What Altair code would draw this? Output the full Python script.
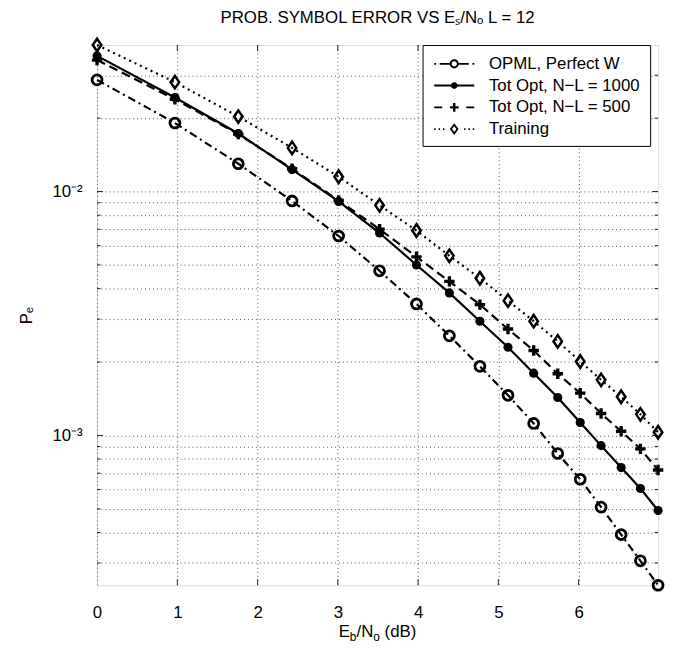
import altair as alt
import pandas as pd

# ---------------- data ----------------
x_db = [0.00, 0.97, 1.76, 2.43, 3.01, 3.52, 3.98, 4.39, 4.77, 5.12, 5.44, 5.74, 6.02, 6.28, 6.53, 6.77, 6.99]

pe_opml = [0.0287, 0.0191, 0.0130, 0.00915, 0.00657, 0.00473, 0.00346, 0.00256, 0.00192,
           0.00146, 0.00112, 0.000843, 0.000661, 0.000508, 0.000392, 0.000306, 0.000243]
pe_tot1000 = [0.0360, 0.0243, 0.0173, 0.0123, 0.00911, 0.00676, 0.00500, 0.00384, 0.00294,
              0.00230, 0.00180, 0.00143, 0.00113, 0.000908, 0.000738, 0.000606, 0.000492]
pe_tot500 = [0.0346, 0.0239, 0.0172, 0.0124, 0.00919, 0.00701, 0.00540, 0.00428, 0.00344,
             0.00273, 0.00223, 0.00179, 0.00149, 0.00123, 0.00104, 0.000881, 0.000721]
pe_training = [0.0399, 0.0281, 0.0203, 0.0151, 0.0115, 0.00878, 0.00692, 0.00545, 0.00441,
               0.00357, 0.00294, 0.00243, 0.00201, 0.00169, 0.00144, 0.00122, 0.00103]

series_names = ["OPML, Perfect W", "Tot Opt, N\u2212L = 1000", "Tot Opt, N\u2212L = 500", "Training"]
x_tick_values = [0, 1, 2, 3, 4, 5, 6]
y_major_ticks = [0.001, 0.01]
y_minor_ticks = [0.0003, 0.0004, 0.0005, 0.0006, 0.0007, 0.0008, 0.0009,
                 0.002, 0.003, 0.004, 0.005, 0.006, 0.007, 0.008, 0.009,
                 0.02, 0.03]
y_grid_values = sorted(y_major_ticks + y_minor_ticks)
title_text = "PROB. SYMBOL ERROR VS E\u209b/N\u2092 L = 12"
y_title_text = "P\u2091"
x_title_parts = ["E", "b", "/N", "o", "(dB)"]

rows = []
for name, vals in zip(series_names, [pe_opml, pe_tot1000, pe_tot500, pe_training]):
    for i, (xv, v) in enumerate(zip(x_db, vals)):
        rows.append({"series": name, "x": xv, "pe": v, "i": i})
df = pd.DataFrame(rows)

FONT = "Liberation Sans"
W, H = 567, 546

# ---------------- legend symbol paths (line + marker), designed in pixels ----------------
K = 13.6  # pixels per path unit for the legend symbol size used below


def u(v):
    return round(v / K, 4)


def rect(x0, x1, t):
    return f"M{u(x0)},{u(-t)}L{u(x1)},{u(-t)}L{u(x1)},{u(t)}L{u(x0)},{u(t)}Z"


def vrect(y0, y1, t):
    return f"M{u(-t)},{u(y0)}L{u(t)},{u(y0)}L{u(t)},{u(y1)}L{u(-t)},{u(y1)}Z"


def disk(r, sweep=1):
    r = u(r)
    return f"M{r},0A{r},{r},0,1,{sweep},{-r},0A{r},{r},0,1,{sweep},{r},0Z"


def ring(ro, ri):
    return disk(ro, 1) + disk(ri, 0)


def diamond_ring(w, h, k):
    return (f"M0,{u(-h)}L{u(w)},0L0,{u(h)}L{u(-w)},0Z" +
            f"M0,{u(-h*k)}L{u(-w*k)},0L0,{u(h*k)}L{u(w*k)},0Z")


T = 1.2
legend_paths = [
    rect(-27.5, -25, T) + rect(-20, -6.2, T) + ring(6.3, 3.6) + rect(6.2, 20, T) + rect(25, 27.5, T),
    rect(-27.5, 27.5, 1.3) + disk(4.6),
    rect(-27.5, -16.5, T) + rect(-6, 6, 1.6) + vrect(-6, 6, 1.6) + rect(16.5, 27.5, T),
    rect(-27.5, -25.5, T) + rect(-21.5, -19.5, T) + rect(-15.5, -13.5, T) +
    diamond_ring(6, 8, 0.5) +
    rect(13.5, 15.5, T) + rect(19.5, 21.5, T) + rect(25.5, 27.5, T),
]

# ---------------- scales / axes ----------------
xs = alt.Scale(domain=[0, 6.99], nice=False, zero=False)
ys = alt.Scale(type="log", domain=[0.000243, 0.0399], nice=False)

x_enc = alt.X("x:Q", scale=xs, axis=alt.Axis(
    values=x_tick_values, title=None, grid=True, gridDash=[1, 3], gridColor="#555",
    ticks=False, domain=False, labelFont=FONT, labelFontSize=17, labelColor="black",
    labelPadding=20, labelFlush=False, labelOverlap=False, format="d"))
y_enc = alt.Y("pe:Q", scale=ys, axis=alt.Axis(
    values=y_grid_values,
    labelExpr="datum.value == 0.01 ? '10\u207b\u00b2' : (datum.value == 0.001 ? '10\u207b\u00b3' : '')",
    title=y_title_text, titleFont=FONT, titleFontSize=17, titleFontWeight="normal",
    titleColor="black", titleX=-71, titleY=H / 2, titleBaseline="middle",
    grid=True, gridDash=[1, 3], gridColor="#555", ticks=False, domain=False,
    labelFont=FONT, labelFontSize=17, labelColor="black", labelPadding=15,
    labelOverlap=False, labelFlush=False))

base = alt.Chart(df).encode(x=x_enc, y=y_enc)

line_dashes = [[8, 4, 2, 4], None, [9, 5], [2, 4]]
lines = []
for name, dash in zip(series_names, line_dashes):
    kw = {"color": "black", "strokeWidth": 2.2}
    if dash is not None:
        kw["strokeDash"] = dash
    lines.append(base.transform_filter(alt.datum.series == name).mark_line(**kw).encode(order="i:Q"))


def pts(name, **kw):
    return base.transform_filter(alt.datum.series == name).mark_point(
        color="black", opacity=1, **kw)


p1 = pts(series_names[0], shape="circle", size=100, filled=False, strokeWidth=2.8)
p2 = pts(series_names[1], shape="circle", size=85, filled=True)
p3 = pts(series_names[2], shape="M-1,0L1,0M0,-1L0,1", size=110, filled=False, strokeWidth=3.4)
p4 = pts(series_names[3], shape="M0,-1.05L0.72,0L0,1.05L-0.72,0Z", size=144,
         filled=False, strokeWidth=2.5)

# inward tick marks on all four sides (MATLAB box style)
def yticks(values, length, at_right):
    xpos = W - length / 2 if at_right else length / 2
    return alt.Chart(pd.DataFrame({"pe": values})).mark_tick(
        orient="horizontal", color="#222", thickness=1, size=length, opacity=1).encode(
        y=y_enc, x=alt.value(xpos))


def xticks(values, length, at_top):
    ypos = length / 2 if at_top else H - length / 2
    return alt.Chart(pd.DataFrame({"x": values})).mark_tick(
        orient="vertical", color="#222", thickness=1, size=length, opacity=1).encode(
        x=x_enc, y=alt.value(ypos))


tick_layers = [
    yticks(y_major_ticks, 6, False), yticks(y_major_ticks, 6, True),
    yticks(y_minor_ticks, 3.5, False), yticks(y_minor_ticks, 3.5, True),
    xticks(x_tick_values[1:], 6, False), xticks(x_tick_values[1:], 6, True),
]

# legend-only layer: no rows drawn, legend built from the shape scale domain
leg = base.transform_filter(alt.datum.x < -100).mark_point(filled=True, color="black").encode(
    shape=alt.Shape("series:N", scale=alt.Scale(domain=series_names, range=legend_paths),
                    legend=alt.Legend(
                        title=None, orient="none", legendX=329, legendY=0, direction="vertical",
                        fillColor="white", strokeColor="black", padding=9, rowPadding=4,
                        cornerRadius=0, labelFont=FONT, labelFontSize=17, labelColor="black",
                        labelLimit=300, symbolSize=400, symbolOffset=13, labelOffset=25,
                        symbolStrokeWidth=0, symbolFillColor="black", symbolOpacity=1)))

# x-axis title with subscripts, built from text pieces
piece_x = [244.2, 255.5, 262.2, 279.2, 290.6]
piece_y = [598, 602, 598, 602, 598]
piece_size = [17, 12, 17, 12, 17]
texts = []
for s, px, py, fs in zip(x_title_parts, piece_x, piece_y, piece_size):
    texts.append(alt.Chart(pd.DataFrame({"t": [s]})).mark_text(
        align="left", baseline="alphabetic", font=FONT, fontSize=fs, color="black").encode(
        x=alt.value(px), y=alt.value(py), text="t:N"))

chart = alt.layer(*tick_layers, *lines, p1, p2, p3, p4, leg, *texts).properties(
    width=W, height=H,
    autosize=alt.AutoSizeParams(type="none"),
    padding={"left": 90, "top": 34, "right": 7, "bottom": 56},
    title=alt.TitleParams(text=title_text, font=FONT, fontSize=17, fontWeight="normal",
                          color="black", anchor="middle", frame="group", offset=7),
).configure_view(stroke="black", strokeWidth=1).configure(background="white")

chart.save("out.html", embed_options={"renderer": "svg", "actions": False})
